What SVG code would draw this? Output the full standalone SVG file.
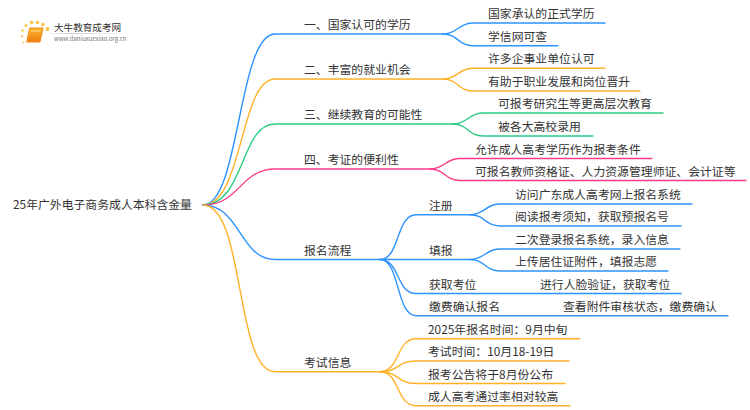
<svg xmlns="http://www.w3.org/2000/svg" width="750" height="410" viewBox="0 0 750 410">
<style>
text{font-family:"Noto Sans CJK SC","Noto Sans",sans-serif;font-size:11.85px;fill:#333}
path{fill:none;stroke-width:1.4;stroke-linecap:round}
.b{stroke:#2e93ff}.o{stroke:#ffb128}.g{stroke:#2ecb85}.p{stroke:#ff3b8a}
</style>
<defs><linearGradient id="lg"><stop offset="0" stop-color="#ccc" stop-opacity="0"/><stop offset=".3" stop-color="#ccc"/><stop offset="1" stop-color="#ccc" stop-opacity="0"/></linearGradient>
<linearGradient id="bk" x1="0" y1="0" x2="0" y2="1"><stop offset="0" stop-color="#fdb92e"/><stop offset="1" stop-color="#ee7d10"/></linearGradient></defs>
<g id="connectors">
<path class="b" d="M203 205C240 205 238 34 275 34H443"/>
<path class="o" d="M203 205C243 205 240 79 275 79H443"/>
<path class="g" d="M203 205C245 205 240 124 275 124H453"/>
<path class="p" d="M203 205C240 205 240 169 275 169H430"/>
<path class="b" d="M203 205C240 205 240 259.5 275 259.5H380"/>
<path class="o" d="M203 205C245 205 235 371.7 275 371.7H380"/>
<path class="b" d="M443 34C458 34 458 23 473 23H605"/>
<path class="b" d="M443 34C458 34 458 45.7 473 45.7H558"/>
<path class="o" d="M443 79C458 79 458 68.3 473 68.3H605"/>
<path class="o" d="M443 79C458 79 458 91 473 91H640"/>
<path class="g" d="M453 124C468 124 468 113 483 113H663"/>
<path class="g" d="M453 124C468 124 468 136 483 136H593"/>
<path class="p" d="M430 169C445 169 445 158.5 460 158.5H652"/>
<path class="p" d="M430 169C445 169 445 180.5 460 180.5H746"/>
<path class="b" d="M380 259.5C400 259.5 396 214.7 416 214.7H470"/>
<path class="b" d="M380 259.5H470"/>
<path class="b" d="M380 259.5C400 259.5 396 293.5 416 293.5H681"/>
<path class="b" d="M380 259.5C400 259.5 396 315.7 416 315.7H728"/>
<path class="b" d="M470 214.7C485 214.7 485 204 500 204H692"/>
<path class="b" d="M470 214.7C485 214.7 485 226 500 226H681"/>
<path class="b" d="M470 259.5C485 259.5 485 249 500 249H680"/>
<path class="b" d="M470 259.5C485 259.5 485 271 500 271H668"/>
<path class="o" d="M380 371.7C400 371.7 396 338.7 416 338.7H580"/>
<path class="o" d="M380 371.7C400 371.7 396 361 416 361H569"/>
<path class="o" d="M380 371.7C400 371.7 396 383.5 416 383.5H565"/>
<path class="o" d="M380 371.7C400 371.7 396 405.7 416 405.7H570"/>
</g>
<g id="logo">
<g fill="#fcc445"><circle cx="47.500" cy="29" r="2"/><circle cx="43" cy="24.500" r="1.800"/><circle cx="37.500" cy="22.500" r="1.800"/><circle cx="31.500" cy="22.500" r="1.800"/><circle cx="26" cy="25.500" r="1.500"/><circle cx="22.500" cy="30.500" r="1.300"/><circle cx="22" cy="36.500" r="1.100"/><circle cx="23.500" cy="42.500" r="1"/></g>
<path d="M30 28H43L40 42H27Z" style="fill:url(#bk);stroke:#ee8a18;stroke-width:1;stroke-linejoin:round"/>
<path d="M31 31H40" style="stroke:#ffe3a0;stroke-width:.8"/>
<rect x="45" y="33" width="88" height="1" fill="url(#lg)"/>
<text x="54" y="30.500" style="font-size:9.600px">大牛教育成考网</text>
<text x="54" y="41" style="font-size:6px;fill:#777">www.daniuxuexiao.org.cn</text>
</g>
<g id="root"><text x="13" y="209">25年广外电子商务成人本科含金量</text></g>
<g id="n1"><text x="304" y="29">一、国家认可的学历</text></g>
<g id="n2"><text x="304" y="74">二、丰富的就业机会</text></g>
<g id="n3"><text x="304" y="119">三、继续教育的可能性</text></g>
<g id="n4"><text x="304" y="164">四、考证的便利性</text></g>
<g id="n5"><text x="304" y="254.500">报名流程</text></g>
<g id="n6"><text x="304" y="366.700">考试信息</text></g>
<g id="n11"><text x="488" y="18">国家承认的正式学历</text></g>
<g id="n12"><text x="488" y="40.700">学信网可查</text></g>
<g id="n21"><text x="488" y="63.300">许多企事业单位认可</text></g>
<g id="n22"><text x="488" y="86">有助于职业发展和岗位晋升</text></g>
<g id="n31"><text x="498" y="108">可报考研究生等更高层次教育</text></g>
<g id="n32"><text x="498" y="131">被各大高校录用</text></g>
<g id="n41"><text x="475" y="153.500">允许成人高考学历作为报考条件</text></g>
<g id="n42"><text x="475" y="175.500">可报名教师资格证、人力资源管理师证、会计证等</text></g>
<g id="n51"><text x="429" y="209.700">注册</text></g>
<g id="n52"><text x="429" y="254.500">填报</text></g>
<g id="n53"><text x="429" y="288.500">获取考位</text></g>
<g id="n54"><text x="429" y="310.700">缴费确认报名</text></g>
<g id="n511"><text x="515" y="199">访问广东成人高考网上报名系统</text></g>
<g id="n512"><text x="515" y="221">阅读报考须知，获取预报名号</text></g>
<g id="n521"><text x="515" y="244">二次登录报名系统，录入信息</text></g>
<g id="n522"><text x="515" y="266">上传居住证附件，填报志愿</text></g>
<g id="n531"><text x="540" y="288.500">进行人脸验证，获取考位</text></g>
<g id="n541"><text x="563" y="310.700">查看附件审核状态，缴费确认</text></g>
<g id="n61"><text x="428" y="333.700">2025年报名时间：9月中旬</text></g>
<g id="n62"><text x="428" y="356">考试时间：10月18-19日</text></g>
<g id="n63"><text x="428" y="378.500">报考公告将于8月份公布</text></g>
<g id="n64"><text x="428" y="400.700">成人高考通过率相对较高</text></g>
</svg>
